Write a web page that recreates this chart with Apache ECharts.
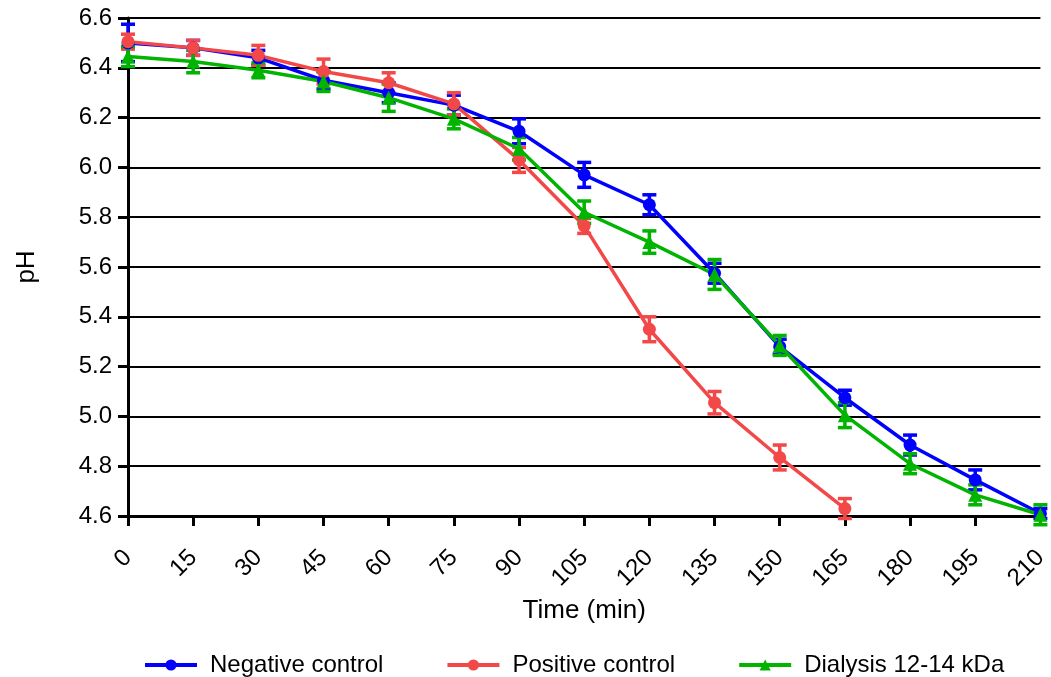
<!DOCTYPE html>
<html>
<head>
<meta charset="utf-8">
<script src="https://cdn.jsdelivr.net/npm/echarts@6/dist/echarts.min.js"></script>
<style>
  html, body { margin: 0; padding: 0; background: #fff; }
  #chart { width: 1051px; height: 677px; }
</style>
</head>
<body>
<div id="chart"></div>
<script>
const times = [0, 15, 30, 45, 60, 75, 90, 105, 120, 135, 150, 165, 180, 195, 210]

const negMean = [6.50, 6.48, 6.44, 6.35, 6.30, 6.25, 6.145, 5.97, 5.85, 5.575, 5.28, 5.075, 4.885, 4.745, 4.61]
const negErr = [0.075, 0.03, 0.03, 0.035, 0.04, 0.04, 0.05, 0.05, 0.04, 0.04, 0.03, 0.03, 0.04, 0.04, 0.02]

const posMean = [6.505, 6.48, 6.45, 6.385, 6.34, 6.255, 6.03, 5.765, 5.35, 5.055, 4.835, 4.63]
const posErr = [0.03, 0.03, 0.04, 0.05, 0.04, 0.045, 0.05, 0.03, 0.05, 0.045, 0.05, 0.04]

const dialMean = [6.445, 6.425, 6.39, 6.345, 6.28, 6.195, 6.075, 5.82, 5.70, 5.57, 5.285, 5.005, 4.81, 4.685, 4.605]
const dialErr = [0.04, 0.045, 0.03, 0.04, 0.055, 0.04, 0.045, 0.045, 0.045, 0.06, 0.04, 0.05, 0.04, 0.04, 0.04]

const BLUE = '#0000ff'
const RED = '#f24848'
const GREEN = '#00b400'

function pairs(mean) {
  return mean.map((v, i) => [times[i], v])
}

function errData(mean, err) {
  return mean.map((v, i) => [times[i], v - err[i], v + err[i]])
}

function errSeries(name, mean, err, color) {
  return {
    name: name,
    type: 'custom',
    data: errData(mean, err),
    z: 3,
    silent: true,
    renderItem: function (params, api) {
      const lo = api.coord([api.value(0), api.value(1)])
      const hi = api.coord([api.value(0), api.value(2)])
      const half = 7
      const style = { stroke: color, lineWidth: 3.5 }
      return {
        type: 'group',
        children: [
          { type: 'line', shape: { x1: lo[0], y1: lo[1], x2: hi[0], y2: hi[1] }, style: style },
          { type: 'line', shape: { x1: lo[0] - half, y1: lo[1], x2: lo[0] + half, y2: lo[1] }, style: style },
          { type: 'line', shape: { x1: hi[0] - half, y1: hi[1], x2: hi[0] + half, y2: hi[1] }, style: style },
        ],
      }
    },
  }
}

function lineSeries(name, mean, color, symbol) {
  return {
    name: name,
    type: 'line',
    data: pairs(mean),
    symbol: symbol,
    symbolSize: symbol === 'triangle' ? 14 : 13,
    z: 4,
    lineStyle: { color: color, width: 3.5 },
    itemStyle: { color: color },
  }
}

const chart = echarts.init(document.getElementById('chart'))
chart.setOption({
  animation: false,
  textStyle: { fontFamily: 'Liberation Sans, Arial, sans-serif' },
  grid: { left: 128, right: 10, top: 18, bottom: 161, containLabel: false },
  legend: {
    data: ['Negative control', 'Positive control', 'Dialysis 12-14 kDa'],
    top: 648,
    left: 138,
    itemWidth: 52,
    itemHeight: 14,
    itemGap: 62,
    lineStyle: { width: 4 },
    textStyle: { fontSize: 24, color: '#000', padding: [0, 0, 0, 8] },
  },
  xAxis: {
    type: 'value',
    min: 0,
    max: 210,
    interval: 15,
    name: 'Time (min)',
    nameLocation: 'middle',
    nameGap: 80,
    nameTextStyle: { fontSize: 26, color: '#000' },
    axisLine: { lineStyle: { color: '#000', width: 3 } },
    axisTick: { show: true, length: 10, lineStyle: { color: '#000', width: 3 } },
    axisLabel: { rotate: 45, fontSize: 24, color: '#000', margin: 38 },
    splitLine: { show: false },
  },
  yAxis: {
    type: 'value',
    min: 4.6,
    max: 6.6,
    interval: 0.2,
    name: 'pH',
    nameLocation: 'middle',
    nameRotate: 90,
    nameGap: 88,
    nameTextStyle: { fontSize: 26, color: '#000' },
    axisLine: { show: true, lineStyle: { color: '#000', width: 3 } },
    axisTick: { show: true, length: 10, lineStyle: { color: '#000', width: 3 } },
    axisLabel: {
      fontSize: 24,
      color: '#000',
      margin: 16,
      formatter: (v) => v.toFixed(1),
    },
    splitLine: { show: true, lineStyle: { color: '#000', width: 2 } },
  },
  series: [
    errSeries('neg err', negMean, negErr, BLUE),
    errSeries('pos err', posMean, posErr, RED),
    errSeries('dial err', dialMean, dialErr, GREEN),
    lineSeries('Negative control', negMean, BLUE, 'circle'),
    lineSeries('Positive control', posMean, RED, 'circle'),
    lineSeries('Dialysis 12-14 kDa', dialMean, GREEN, 'triangle'),
  ],
})
</script>
</body>
</html>
